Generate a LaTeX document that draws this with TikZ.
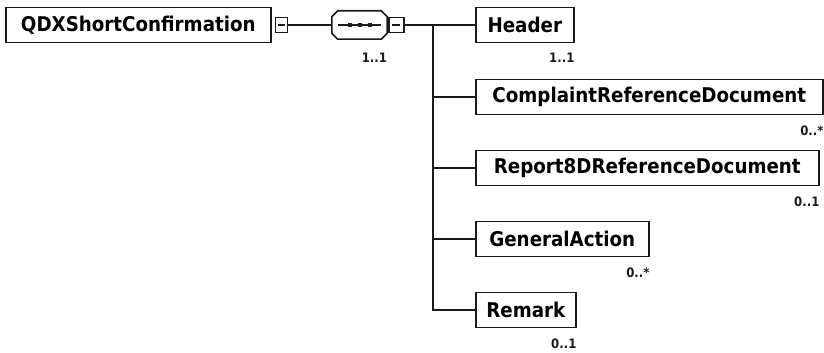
\documentclass[tikz,border=0pt]{standalone}
\usepackage{fontspec}
\setmainfont{DejaVu Sans Condensed}
\usetikzlibrary{positioning}
\definecolor{Ink}{HTML}{1A1A1A}
\tikzset{elem/.style={draw=Ink,line width=1.6pt,fill=white,minimum height=35pt,inner xsep=0pt,anchor=west,font=\fontsize{20.3}{22}\selectfont\bfseries},occur/.style={anchor=north east,inner sep=0pt,text=Ink,font=\fontsize{13}{14}\selectfont\bfseries},minus/.style={draw=Ink,line width=1.4pt,fill=white,minimum width=12pt,minimum height=15pt,inner sep=0pt},link/.style={draw=Ink,line width=1.6pt},dot/.style={fill=Ink,minimum size=4pt,inner sep=0pt}}

\begin{document}
\begin{tikzpicture}[x=1pt,y=-1pt]
        \useasboundingbox (0,0) rectangle (824,353);
        % root element
        \node[elem,minimum width=265pt] (root) at (5,25){QDXShortConfirmation};
        \node[minus,right=3pt of root] (rootminus){};
        \draw[Ink,line width=1.4pt] ([xshift=-3.5pt]rootminus.center)--([xshift=3.5pt]rootminus.center);
        % sequence compositor
        \node[minimum width=55pt,minimum height=28pt,inner sep=0pt] (seq) at (359.5,25){};
        \draw[Ink,line width=1.6pt,fill=white] ([xshift=6pt]seq.north west)--([xshift=-6pt]seq.north east)--([yshift=-6pt]seq.north east)--([yshift=6pt]seq.south east)--([xshift=-6pt]seq.south east)--([xshift=6pt]seq.south west)--([yshift=6pt]seq.south west)--([yshift=-6pt]seq.north west)--cycle;
        \draw[Ink,line width=1.4pt] ([xshift=6pt]seq.west)--([xshift=-6pt]seq.east);
        \foreach \dx in {-10,0,10}
          \node[dot] at ([xshift=\dx pt]seq.center){};
        \node[minus,minimum width=15pt,right=1pt of seq] (seqminus){};
        \draw[Ink,line width=1.4pt] ([xshift=-4pt]seqminus.center)--([xshift=4pt]seqminus.center);
        \node[occur] (seqocc) at ([yshift=-14pt]seq.south east){1..1};
        % child elements
        \node[elem,minimum width=98pt] (hdr) at (475,25){Header};
        \node[elem,minimum width=347pt] (cmp) at (475,97){ComplaintReferenceDocument};
        \node[elem,minimum width=343pt] (rpt) at (475,168){Report8DReferenceDocument};
        \node[elem,minimum width=173pt] (gen) at (475,239){GeneralAction};
        \node[elem,minimum width=100pt] (rmk) at (475,310){Remark};
        \node[occur] (hdrocc) at ([yshift=-10pt]hdr.south east){1..1};
        \node[occur] (cmpocc) at ([yshift=-10pt]cmp.south east){0..*};
        \node[occur] (rptocc) at ([yshift=-10pt]rpt.south east){0..1};
        \node[occur] (genocc) at ([yshift=-10pt]gen.south east){0..*};
        \node[occur] (rmkocc) at ([yshift=-10pt]rmk.south east){0..1};
        % connectors
        \coordinate (fork) at (433,25);
        \draw[link] (rootminus.east)--(seq.west);
        \draw[link] (seqminus.east)--(hdr.west);
        \draw[link] (fork)|-(rmk.west);
        \foreach \n in {cmp,rpt,gen}
          \draw[link] (fork|-\n.west)--(\n.west);
      \end{tikzpicture}
\end{document}
